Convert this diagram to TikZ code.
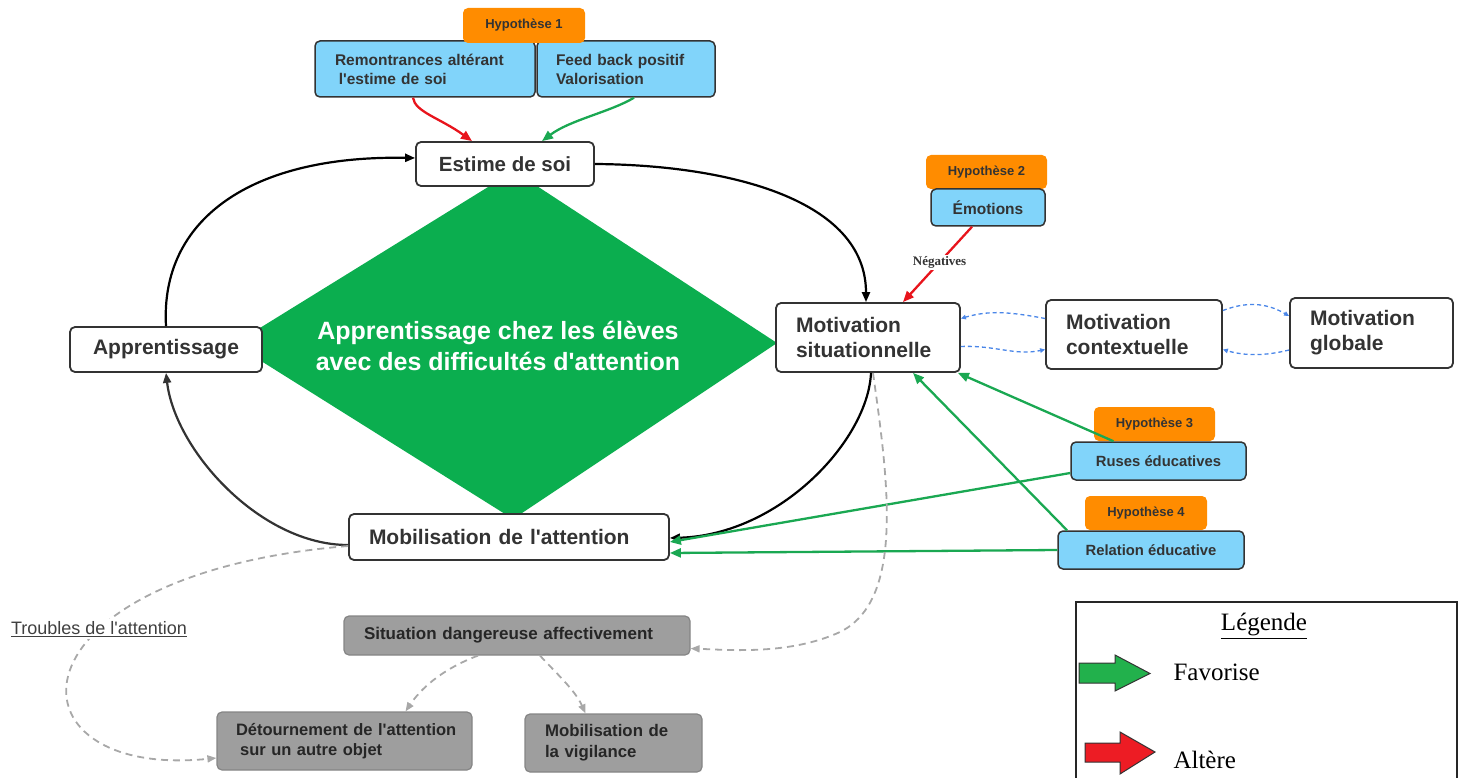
\documentclass[tikz,border=0pt]{standalone}
\usepackage{fontspec}
\setmainfont{Liberation Sans}[Ligatures=TeXOff]
\newfontfamily\timesf{Liberation Serif}[Ligatures=TeXOff]
\usetikzlibrary{arrows.meta}
\definecolor{txt}{HTML}{333333}
\definecolor{bluebox}{HTML}{81D4FA}
\definecolor{orangebox}{HTML}{FF8C00}
\definecolor{dgreen}{HTML}{0BAE4F}
\definecolor{agreen}{HTML}{1AA852}
\definecolor{ared}{HTML}{E8141C}
\definecolor{graybox}{HTML}{9E9E9E}
\definecolor{grayedge}{HTML}{858585}
\definecolor{graydash}{HTML}{A8A8A8}
\definecolor{bluedash}{HTML}{4A86E8}
\definecolor{lgreen}{HTML}{22B14C}
\definecolor{lred}{HTML}{ED1C24}
\newcommand{\fs}[1]{\fontsize{#1}{1.22\dimexpr#1pt\relax}\selectfont}
\begin{document}
\begin{tikzpicture}[x=1pt,y=-1pt,
  base/.style={rectangle, rounded corners=5pt, draw=txt, line width=1.8pt, text=txt, inner sep=0pt},
  wbox/.style={base, fill=white},
  bbox/.style={base, fill=bluebox, line width=1.5pt},
  gbox/.style={base, fill=graybox, draw=grayedge, line width=1.2pt, text=black!85},
  hyp/.style={rectangle, rounded corners=5pt, fill=orangebox, text=txt, inner sep=0pt, font=\bfseries\fs{13}},
  blk/.style={draw=black, line width=2.2pt, -{Triangle[length=10pt,width=8pt]}},
  dblk/.style={draw=txt, line width=2.2pt, -{Triangle[length=10pt,width=8pt]}},
  grn/.style={draw=agreen, line width=2.3pt, -{Triangle[length=11pt,width=9pt]}},
  rd/.style={draw=ared, line width=2.3pt, -{Triangle[length=11pt,width=9pt]}},
  bld/.style={draw=bluedash, line width=1.3pt, dash pattern=on 4pt off 3pt, -{Triangle[length=5pt,width=4.5pt]}},
  gd/.style={draw=graydash, line width=1.8pt, dash pattern=on 7pt off 5pt, -{Triangle[length=9pt,width=7pt]}}
]
\useasboundingbox (0,0) rectangle (1459,778);

% central diamond
\coordinate (dT) at (514,171);
\coordinate (dR) at (777,343);
\coordinate (dB) at (513,519);
\coordinate (dL) at (234,344);
\fill[dgreen] (dT) -- (dR) -- (dB) -- (dL) -- cycle;
\node[text=white, font=\bfseries\fontsize{25}{31}\selectfont, align=center] (dtext) at (498,346)
  {Apprentissage chez les élèves\\avec des difficultés d'attention};

% main boxes
\node[wbox, minimum width=178pt, minimum height=44pt, font=\bfseries\fs{20.5}] (estime) at (505,164) {Estime de soi};
\node[wbox, minimum width=192pt, minimum height=45pt, font=\bfseries\fs{21}] (appr) at (166,349.5) {Apprentissage};
\node[wbox, minimum height=69pt, inner xsep=20pt, text width=144pt, align=left, font=\bfseries\fontsize{21}{25}\selectfont] (ms) at (868,337.5) {Motivation\\situationnelle};
\node[wbox, minimum height=69pt, inner xsep=20pt, text width=136pt, align=left, font=\bfseries\fontsize{21}{25}\selectfont] (ctx) at (1134,334.5) {Motivation\\contextuelle};
\node[wbox, minimum height=70pt, inner xsep=20pt, text width=123pt, align=left, font=\bfseries\fontsize{21}{25}\selectfont] (glob) at (1371.5,333) {Motivation\\globale};
\node[wbox, minimum height=46pt, inner xsep=20pt, text width=280pt, align=left, font=\bfseries\fs{21}] (mobil) at (509,537) {Mobilisation de l'attention};

% hypothesis 1 group
\node[bbox, minimum height=56pt, inner xsep=20pt, text width=180pt, align=left, font=\bfseries\fontsize{15.5}{19}\selectfont] (remon) at (425,69) {Remontrances altérant\\\hspace{0.25em}l'estime de soi};
\node[bbox, minimum height=56pt, inner xsep=19pt, text width=140pt, align=left, font=\bfseries\fontsize{15.5}{19}\selectfont] (feed) at (626,69) {Feed back positif\\Valorisation};
\node[hyp, minimum width=122pt, minimum height=35pt] (hyp1) at (524,25.5) {Hypothèse 1};

% hypothesis 2
\node[hyp, minimum width=121pt, minimum height=34pt] (hyp2) at (986.5,172) {Hypothèse 2};
\node[bbox, minimum width=114pt, minimum height=37pt, font=\bfseries\fs{15.5}] (emo) at (988,207.5) {Émotions};

% hypothesis 3
\node[hyp, minimum width=121pt, minimum height=34pt] (hyp3) at (1154.5,424) {Hypothèse 3};
\node[bbox, minimum width=175pt, minimum height=38pt, font=\bfseries\fs{14.8}] (ruses) at (1158.5,461) {Ruses éducatives};

% hypothesis 4
\node[hyp, minimum width=122pt, minimum height=34pt] (hyp4) at (1146,513) {Hypothèse 4};
\node[bbox, minimum width=186pt, minimum height=38pt, font=\bfseries\fs{14.8}] (relat) at (1151,550) {Relation éducative};

% grey boxes
\node[gbox, minimum height=39pt, inner xsep=20pt, text width=306pt, align=left, font=\bfseries\fs{17}] (sit) at (517,635.5) {Situation dangereuse affectivement};
\node[gbox, minimum height=58pt, inner xsep=19pt, text width=217pt, align=left, font=\bfseries\fontsize{16.5}{20}\selectfont] (detour) at (344.5,741) {\mbox{Détournement de l'attention}\\\mbox{\hspace{0.25em}sur un autre objet}};
\node[gbox, minimum height=58pt, inner xsep=20pt, text width=137pt, align=left, font=\bfseries\fontsize{16.8}{21}\selectfont] (vigil) at (613.5,743) {Mobilisation de\\la vigilance};

% main cycle
\draw[blk] (appr.north) .. controls (160,220) and (250,155) .. ([yshift=6pt]estime.west);
\draw[blk] (estime.east) .. controls (730,165) and (866,200) .. ([xshift=-2pt]ms.north);
\draw[blk] ([xshift=3pt]ms.south) .. controls (868,440) and (780,535) .. ([yshift=-1pt]mobil.east);
\draw[dblk] ([yshift=-8pt]mobil.west) .. controls (260,545) and (175,450) .. (appr.south);

% hypothesis 1 arrows
\draw[rd] ([xshift=-12pt]remon.south) .. controls (415,112) and (440,118) .. ([xshift=-33pt]estime.north);
\draw[grn] ([xshift=8pt]feed.south) .. controls (610,112) and (570,120) .. ([xshift=37pt]estime.north);

% hypothesis 2 arrow
\draw[rd] ([xshift=-16pt]emo.south) -- node[fill=white, inner sep=1.5pt, text=txt, font=\timesf\bfseries\fontsize{13}{15}\selectfont, pos=0.47] (neg) {Négatives} ([xshift=35pt]ms.north);

% hypotheses 3 and 4 arrows
\draw[grn] ([xshift=-45pt]ruses.north) -- ([xshift=-3pt]ms.south east);
\draw[grn] ([xshift=-84pt]relat.north) -- ([xshift=45pt]ms.south);
\draw[grn] ([yshift=-12pt]ruses.west) -- ([yshift=-5pt]mobil.east);
\draw[grn] (relat.west) -- ([yshift=-16pt]mobil.east);

% motivation dashed links
\draw[bld] ([yshift=16pt]ctx.west) .. controls (1010,312) and (990,310) .. ([yshift=19pt]ms.east);
\draw[bld] ([yshift=-9pt]ms.east) .. controls (995,345) and (1015,356) .. ([yshift=-15pt]ctx.west);
\draw[bld] ([yshift=24pt]ctx.east) .. controls (1245,302) and (1265,302) .. ([yshift=17pt]glob.west);
\draw[bld] ([yshift=-17pt]glob.west) .. controls (1265,356) and (1245,356) .. ([yshift=-15pt]ctx.east);

% grey dashed links
\draw[gd] ([yshift=-9pt]mobil.west) .. controls (0,575) and (0,780) .. ([yshift=-17pt]detour.west);
\draw[gd] ([xshift=5pt]ms.south) .. controls (888,480) and (905,600) .. (840,632) .. controls (790,655) and (730,650) .. ([yshift=-13pt]sit.east);
\draw[gd] ([xshift=-39pt]sit.south) .. controls (440,670) and (420,690) .. ([xshift=61pt]detour.north);
\draw[gd] ([xshift=23pt]sit.south) .. controls (555,672) and (575,690) .. ([xshift=-28pt]vigil.north);

\node[fill=white, inner sep=2pt, text=black!75, font=\fs{18}] (troubles) at (99,629) {\underline{Troubles de l'attention}};

% legend
\coordinate (lgA) at (1076,778);
\coordinate (lgB) at (1076,602);
\coordinate (lgC) at (1457,602);
\coordinate (lgD) at (1457,778);
\draw[line width=1.5pt, black!85] (lgA) -- (lgB) -- (lgC) -- (lgD);
\node[font=\timesf\fontsize{25}{30}\selectfont] (lgtitle) at (1264,626) {\underline{Légende}};
\filldraw[fill=lgreen, draw=black!80, line width=1pt] (1079,663) -- (1115,663) -- (1115,655) -- (1150,673.5) -- (1115,691) -- (1115,683) -- (1079,683) -- cycle;
\node[anchor=west, font=\timesf\fontsize{25}{30}\selectfont] (lgfav) at (1170,672) {Favorise};
\filldraw[fill=lred, draw=black!80, line width=1pt] (1085,743) -- (1120,743) -- (1120,732) -- (1155,752) -- (1120,774) -- (1120,762) -- (1085,762) -- cycle;
\node[anchor=west, font=\timesf\fontsize{25}{30}\selectfont] (lgalt) at (1170,760) {Altère};
\end{tikzpicture}
\end{document}
